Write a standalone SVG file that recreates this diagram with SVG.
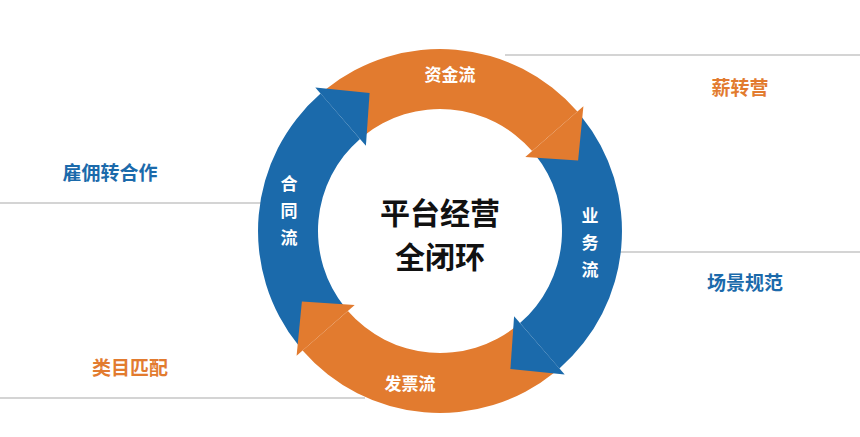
<svg xmlns="http://www.w3.org/2000/svg" width="860" height="437" viewBox="0 0 860 437">
<style>
.o{fill:#e27b2f}.b{fill:#1b6aab}
.t{font-family:"Noto Sans CJK SC",sans-serif;font-weight:bold}
.w{fill:#fff;font-size:17px}
.ln{stroke:#aaa;stroke-width:1.2;fill:none}
</style>
<defs>
<path id="body" d="M325.5 89.6 A182 182 0 0 1 577.4 111.6 L532.1 151.0 A122 122 0 0 0 363.2 136.2 Z"/>
<path id="head" d="M583.4 106.3 L525.3 156.9 L578.1 160.6 Z"/>
</defs>
<rect width="860" height="437" fill="#fff"/>
<g id="connectors">
<path class="ln" d="M505 55H860"/>
<path class="ln" d="M0 203H262"/>
<path class="ln" d="M618 252H860"/>
<path class="ln" d="M0 398H365"/>
</g>
<g id="ring">
<use href="#body" class="o"/>
<use href="#body" class="b" transform="rotate(90 440 231)"/>
<use href="#body" class="o" transform="rotate(180 440 231)"/>
<use href="#body" class="b" transform="rotate(270 440 231)"/>
<use href="#head" class="o"/>
<use href="#head" class="b" transform="rotate(90 440 231)"/>
<use href="#head" class="o" transform="rotate(180 440 231)"/>
<use href="#head" class="b" transform="rotate(270 440 231)"/>
</g>
<g id="labels" class="t">
<text class="w" x="450" y="81" text-anchor="middle">资金流</text>
<text class="w" x="410" y="390" text-anchor="middle">发票流</text>
<text class="w" x="590" y="222" text-anchor="middle">业</text>
<text class="w" x="590" y="249" text-anchor="middle">务</text>
<text class="w" x="590" y="276" text-anchor="middle">流</text>
<text class="w" x="289" y="190" text-anchor="middle">合</text>
<text class="w" x="289" y="217" text-anchor="middle">同</text>
<text class="w" x="289" y="244" text-anchor="middle">流</text>
</g>
<g id="center" class="t">
<text x="440" y="224" text-anchor="middle" font-size="30" fill="#111">平台经营</text>
<text x="440" y="268" text-anchor="middle" font-size="30" fill="#111">全闭环</text>
</g>
<g id="side" class="t" font-size="19">
<text x="740" y="95" text-anchor="middle" fill="#e27b2f">薪转营</text>
<text x="110" y="180" text-anchor="middle" fill="#1b6aab">雇佣转合作</text>
<text x="745" y="290" text-anchor="middle" fill="#1b6aab">场景规范</text>
<text x="130" y="375" text-anchor="middle" fill="#e27b2f">类目匹配</text>
</g>
</svg>
